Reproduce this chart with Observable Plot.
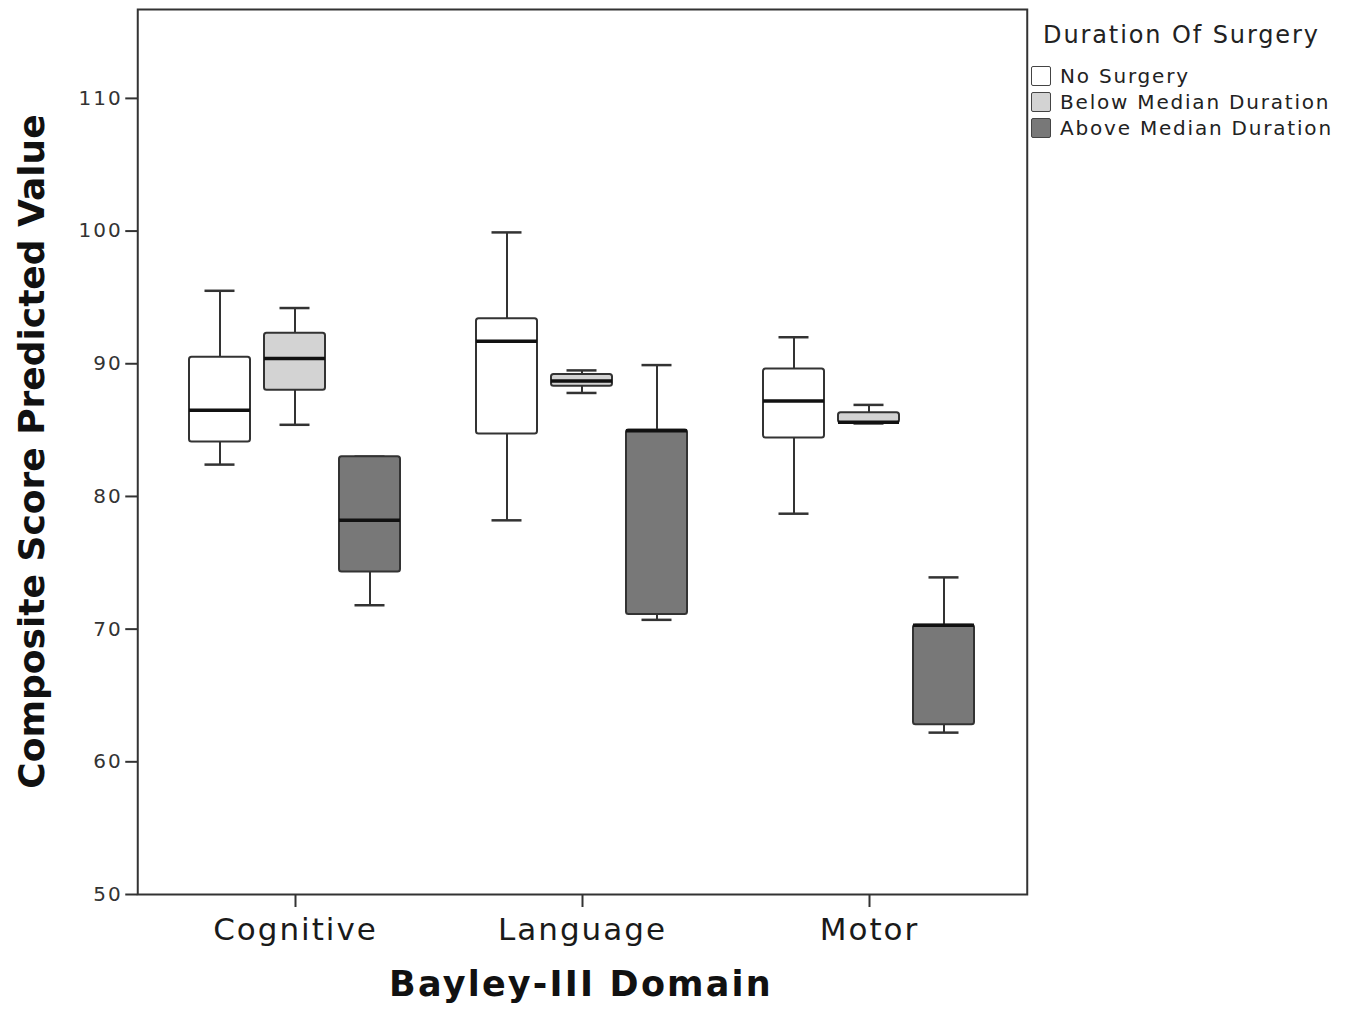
<!DOCTYPE html>
<html>
<head>
<meta charset="utf-8">
<script src="https://cdn.jsdelivr.net/npm/d3@7"></script>
<script src="https://cdn.jsdelivr.net/npm/@observablehq/plot@0.6"></script>
<style>
  body { margin: 0; background: #fff; }
  #wrap { position: relative; width: 1352px; height: 1013px; font-family: "DejaVu Sans", sans-serif; }
  #wrap svg { position: absolute; left: 0; top: 0; }
  [aria-label="y-axis tick label"] { letter-spacing: 2px; }
  [aria-label="fx-axis tick label"] { letter-spacing: 2px; }
  #legend { position: absolute; left: 1031px; top: 20px; color: #222; }
  #legend .lt { font-size: 24px; letter-spacing: 1.9px; margin-left: 12px; line-height: 30px; margin-bottom: 13px; }
  #legend .row { display: flex; align-items: center; height: 26px; font-size: 20px; letter-spacing: 1.8px; }
  #legend .sw { width: 18px; height: 18px; border: 1.5px solid #444; border-radius: 2px; margin-right: 9px; box-sizing: content-box; }
</style>
</head>
<body>
<div id="wrap"></div>
<script>
// Categories
const domains = ["Cognitive", "Language", "Motor"];
const groups = ["No Surgery", "Below Median Duration", "Above Median Duration"];
const groupColors = ["#ffffff", "#d3d3d3", "#787878"];
const yTicks = [50, 60, 70, 80, 90, 100, 110];

// Box statistics per group (order of `groups`): [min, q1, median, q3, max]
const cognitiveStats = [
  [82.4, 84.1, 86.5, 90.5, 95.5],
  [85.4, 88.0, 90.4, 92.3, 94.2],
  [71.8, 74.3, 78.2, 83.0, 83.0]
];
const languageStats = [
  [78.2, 84.7, 91.7, 93.4, 99.9],
  [87.8, 88.3, 88.7, 89.2, 89.5],
  [70.7, 71.1, 84.95, 85.0, 89.9]
];
const motorStats = [
  [78.7, 84.4, 87.2, 89.6, 92.0],
  [85.5, 85.55, 85.6, 86.3, 86.9],
  [62.2, 62.8, 70.3, 70.3, 73.9]
];

const statsByDomain = [cognitiveStats, languageStats, motorStats];
const rows = [];
domains.forEach((d, i) => {
  groups.forEach((g, j) => {
    const [min, q1, median, q3, max] = statsByDomain[i][j];
    rows.push({domain: d, group: g, min, q1, median, q3, max});
  });
});

const W = 1352, H = 1013;
const mL = 137, mR = 324, mT = 9, mB = 119;
const fxPadIn = 0.1, fxPadOut = 0.1;
// outer facet padding (px) so the frame and y axis span the whole plot area
const fxStep = (W - mL - mR) / (domains.length - fxPadIn + 2 * fxPadOut);
const fxOuter = fxPadOut * fxStep;

const ink = "#333";
const plot = Plot.plot({
  width: W,
  height: H,
  marginTop: mT,
  marginRight: mR,
  marginBottom: mB,
  marginLeft: mL,
  style: {fontFamily: "DejaVu Sans, sans-serif", background: "white", color: ink},
  fx: {domain: domains, paddingInner: fxPadIn, paddingOuter: fxPadOut, label: null},
  x: {domain: groups, paddingInner: 0.184, paddingOuter: 0.292, axis: null},
  y: {domain: [50, 116.7], label: null},
  color: {domain: groups, range: groupColors},
  marks: [
    Plot.frame({stroke: ink, strokeWidth: 2, facet: "super", insetLeft: -fxOuter, insetRight: -fxOuter}),
    Plot.axisY({ticks: yTicks, tickSize: 12, tickPadding: 3, fontSize: 20, label: null, strokeWidth: 2, dx: -fxOuter}),
    Plot.axisFx({anchor: "bottom", tickSize: 13, tickPadding: 10, fontSize: 31, label: null, strokeWidth: 2, fill: "#1a1a1a"}),
    Plot.ruleX(rows, {fx: "domain", x: "group", y1: "min", y2: "q1", stroke: ink, strokeWidth: 2}),
    Plot.ruleX(rows, {fx: "domain", x: "group", y1: "q3", y2: "max", stroke: ink, strokeWidth: 2}),
    Plot.tickY(rows, {fx: "domain", x: "group", y: "min", stroke: ink, strokeWidth: 2.5, insetLeft: 15.5, insetRight: 15.5}),
    Plot.tickY(rows, {fx: "domain", x: "group", y: "max", stroke: ink, strokeWidth: 2.5, insetLeft: 15.5, insetRight: 15.5}),
    Plot.barY(rows, {fx: "domain", x: "group", y1: "q1", y2: "q3", fill: "group", stroke: ink, strokeWidth: 2, rx: 2.5}),
    Plot.tickY(rows, {fx: "domain", x: "group", y: "median", stroke: "#111", strokeWidth: 3.5})
  ]
});

const wrap = document.getElementById("wrap");
wrap.appendChild(plot);

// Axis titles
const svg = d3.select(plot);
svg.append("text")
  .attr("transform", `translate(44,${(mT + H - mB) / 2}) rotate(-90)`)
  .attr("text-anchor", "middle")
  .attr("font-family", "DejaVu Sans, sans-serif")
  .attr("font-weight", "bold")
  .attr("font-size", 36)
  .attr("fill", "#111")
  .text("Composite Score Predicted Value");
svg.append("text")
  .attr("x", 581)
  .attr("y", 996)
  .attr("text-anchor", "middle")
  .attr("font-family", "DejaVu Sans, sans-serif")
  .attr("font-weight", "bold")
  .attr("font-size", 35)
  .attr("letter-spacing", "2.2px")
  .attr("fill", "#111")
  .text("Bayley-III Domain");

// Legend
const legend = document.createElement("div");
legend.id = "legend";
const lt = document.createElement("div");
lt.className = "lt";
lt.textContent = "Duration Of Surgery";
legend.appendChild(lt);
groups.forEach((g, i) => {
  const row = document.createElement("div");
  row.className = "row";
  const sw = document.createElement("span");
  sw.className = "sw";
  sw.style.background = groupColors[i];
  const label = document.createElement("span");
  label.textContent = g;
  row.appendChild(sw);
  row.appendChild(label);
  legend.appendChild(row);
});
wrap.appendChild(legend);
</script>
</body>
</html>
